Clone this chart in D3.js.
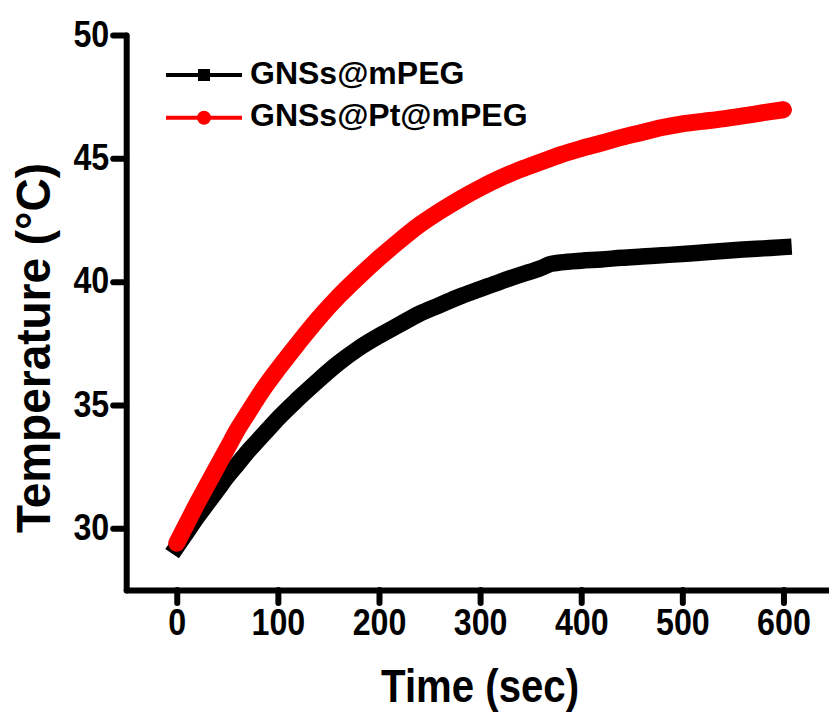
<!DOCTYPE html>
<html>
<head>
<meta charset="utf-8">
<script src="https://cdn.jsdelivr.net/npm/d3@7"></script>
<style>
  html, body { margin: 0; padding: 0; background: #fff; }
  svg { display: block; }
  text { font-family: "Liberation Sans", Arial, Helvetica, sans-serif; font-weight: bold; fill: #000; }
</style>
</head>
<body>
<svg id="chart" width="829" height="714"></svg>
<script>
// Irradiation time (s)
const timeSec = [0, 10, 20, 30, 40, 50, 60, 70, 80, 90, 100, 120, 140, 160, 180, 200, 220, 240, 260, 280,
  300, 320, 340, 360, 370, 380, 400, 420, 440, 460, 480, 500, 520, 540, 560, 580, 600];

// Temperature (°C) for each sample
const tempMPEG = [29.25, 29.85, 30.45, 31.0, 31.55, 32.1, 32.6, 33.1, 33.55, 34.0, 34.45, 35.25, 36.0, 36.7,
  37.3, 37.8, 38.25, 38.7, 39.05, 39.4, 39.7, 40.0, 40.28, 40.55, 40.72, 40.78, 40.85, 40.9, 40.97, 41.02,
  41.07, 41.12, 41.18, 41.24, 41.3, 41.35, 41.4];
const tempPtMPEG = [29.4, 30.2, 31.0, 31.75, 32.5, 33.25, 34.0, 34.65, 35.3, 35.9, 36.45, 37.5, 38.5, 39.4,
  40.2, 40.95, 41.65, 42.3, 42.85, 43.35, 43.8, 44.2, 44.55, 44.85, 45.0, 45.15, 45.4, 45.62, 45.85, 46.05,
  46.25, 46.4, 46.5, 46.6, 46.72, 46.85, 46.97];

const seriesNames = ["GNSs@mPEG", "GNSs@Pt@mPEG"];
const seriesColors = ["#000000", "#ff0000"];

// Axis ticks
const xMajorTicks = [0, 100, 200, 300, 400, 500, 600];
const xMinorTicks = [-50, 50, 150, 250, 350, 450, 550, 650];
const yMajorTicks = [30, 35, 40, 45, 50];
const yMinorTicks = [27.5, 32.5, 37.5, 42.5, 47.5];

const xTitle = "Time (sec)";
const yTitle = "Temperature (°C)";

const svg = d3.select("#chart");

const x = d3.scaleLinear().domain([-50, 650]).range([126.2, 834]);
const y = d3.scaleLinear().domain([27.5, 50]).range([590, 35]);

const axisX0 = x.range()[0];
const axisY0 = y.range()[0];
const squeeze = 0.87;

// ---- x axis ----
const gx = svg.append("g").attr("transform", `translate(0,${axisY0})`);
gx.call(d3.axisBottom(x).tickValues(xMinorTicks).tickSize(8).tickSizeOuter(0).tickFormat(""));
gx.call(d3.axisBottom(x).tickValues(xMajorTicks).tickSize(13).tickSizeOuter(0).tickPadding(0));
gx.selectAll(".domain").attr("stroke", "#000").attr("stroke-width", 6).attr("stroke-linecap", "round");
gx.selectAll(".tick line").attr("stroke", "#000").attr("stroke-width", 6).attr("stroke-linecap", "round");
gx.selectAll(".tick text")
  .attr("y", 45).attr("dy", 0)
  .attr("transform", `scale(${squeeze},1)`)
  .style("font-size", "37px");

// ---- y axis ----
const gy = svg.append("g").attr("transform", `translate(${axisX0},0)`);
gy.call(d3.axisLeft(y).tickValues(yMinorTicks).tickSize(8).tickSizeOuter(0).tickFormat(""));
gy.call(d3.axisLeft(y).tickValues(yMajorTicks).tickSize(13).tickSizeOuter(0).tickPadding(0));
gy.selectAll(".domain").attr("stroke", "#000").attr("stroke-width", 6).attr("stroke-linecap", "round");
gy.selectAll(".tick line").attr("stroke", "#000").attr("stroke-width", 6).attr("stroke-linecap", "round");
gy.selectAll(".tick text")
  .attr("x", -17 / squeeze).attr("y", 11).attr("dy", 0)
  .attr("transform", `scale(${squeeze},1)`)
  .style("font-size", "37px");

// ---- axis titles ----
svg.append("text")
  .attr("x", x(300)).attr("y", 702)
  .attr("text-anchor", "middle")
  .attr("textLength", 198).attr("lengthAdjust", "spacingAndGlyphs")
  .style("font-size", "46px")
  .text(xTitle);

svg.append("text")
  .attr("transform", "translate(50,348) rotate(-90)")
  .attr("text-anchor", "middle")
  .attr("textLength", 370).attr("lengthAdjust", "spacingAndGlyphs")
  .style("font-size", "48px")
  .text(yTitle);

// ---- curves ----
const series = [
  { name: seriesNames[0], color: seriesColors[0], values: tempMPEG, width: 16.5, cap: "square" },
  { name: seriesNames[1], color: seriesColors[1], values: tempPtMPEG, width: 17, cap: "round" }
];

const line = d3.line()
  .x(d => x(d[0]))
  .y(d => y(d[1]))
  .curve(d3.curveMonotoneX);

svg.append("g").selectAll("path")
  .data(series)
  .join("path")
  .attr("fill", "none")
  .attr("stroke", d => d.color)
  .attr("stroke-width", d => d.width)
  .attr("stroke-linecap", d => d.cap)
  .attr("stroke-linejoin", "round")
  .attr("d", d => line(timeSec.map((t, i) => [t, d.values[i]])));

// ---- legend ----
const legend = svg.append("g");
const legendRows = legend.selectAll("g")
  .data(series)
  .join("g")
  .attr("transform", (d, i) => `translate(166,${75 + i * 42.7})`);

legendRows.append("line")
  .attr("x1", 0).attr("x2", 76).attr("y1", 0).attr("y2", 0)
  .attr("stroke", d => d.color)
  .attr("stroke-width", 4);

legendRows.filter((d, i) => i === 0).append("rect")
  .attr("x", 38 - 6).attr("y", -6).attr("width", 12).attr("height", 12)
  .attr("fill", d => d.color);

legendRows.filter((d, i) => i === 1).append("circle")
  .attr("cx", 38).attr("cy", 0).attr("r", 7)
  .attr("fill", d => d.color);

legendRows.append("text")
  .attr("x", 84).attr("y", 8.6)
  .style("font-size", "32px")
  .text(d => d.name);
</script>
</body>
</html>
